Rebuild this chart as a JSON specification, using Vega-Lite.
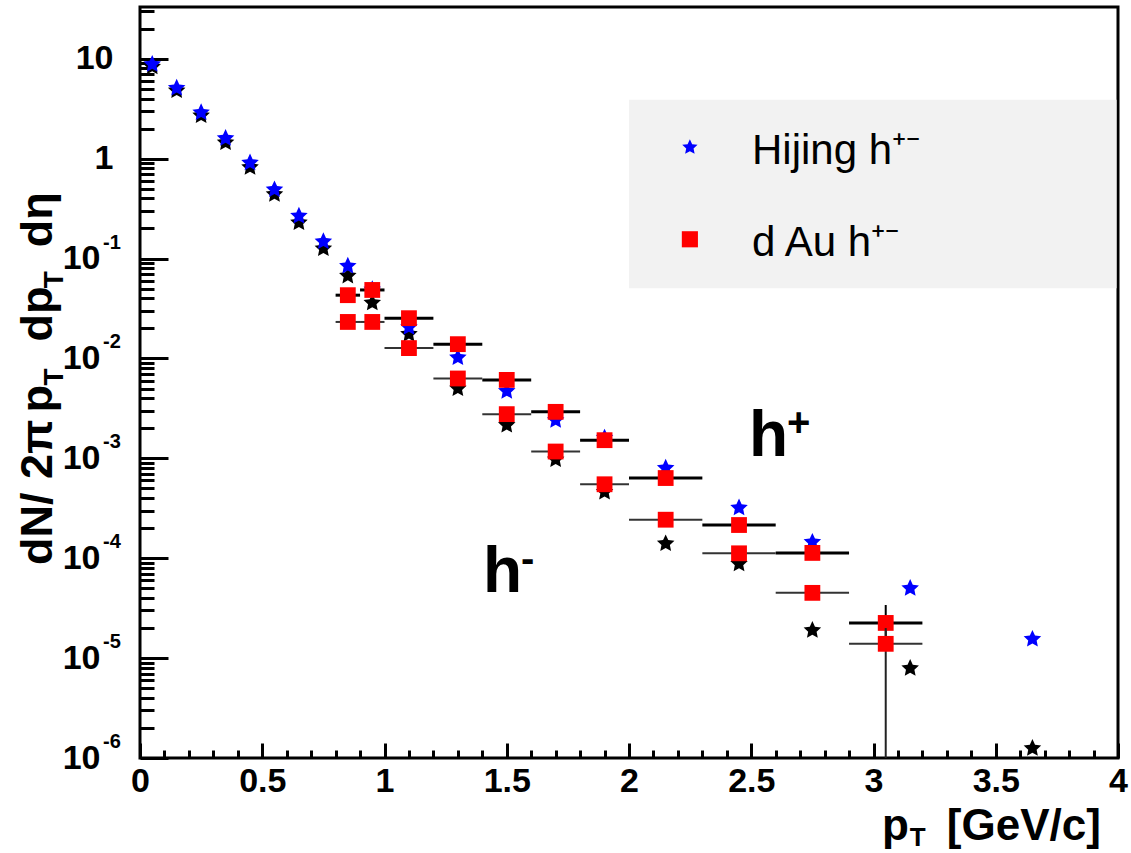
{
  "$schema": "https://vega.github.io/schema/vega-lite/v6.json",
  "width": 978,
  "height": 751,
  "autosize": "none",
  "padding": {"left": 140, "top": 7, "right": 13, "bottom": 95},
  "background": "white",
  "config": {
    "font": "Liberation Sans",
    "view": {"stroke": "black", "strokeWidth": 3},
    "axis": {
      "domain": false,
      "grid": false,
      "tickColor": "black",
      "tickWidth": 3,
      "labelColor": "black",
      "labelFont": "Liberation Sans",
      "labelFontWeight": "bold",
      "labelFontSize": 34,
      "labelFlush": false,
      "labelOverlap": false,
      "labelBound": false
    }
  },
  "datasets": {
    "hijing": [
      {"pt": 0.05, "charge": "h-", "dndpt": 8.3},
      {"pt": 0.15, "charge": "h-", "dndpt": 4.8},
      {"pt": 0.25, "charge": "h-", "dndpt": 2.7},
      {"pt": 0.35, "charge": "h-", "dndpt": 1.45},
      {"pt": 0.45, "charge": "h-", "dndpt": 0.82},
      {"pt": 0.55, "charge": "h-", "dndpt": 0.44},
      {"pt": 0.65, "charge": "h-", "dndpt": 0.229},
      {"pt": 0.75, "charge": "h-", "dndpt": 0.126},
      {"pt": 0.85, "charge": "h-", "dndpt": 0.067},
      {"pt": 0.95, "charge": "h-", "dndpt": 0.036},
      {"pt": 1.1, "charge": "h-", "dndpt": 0.0175},
      {"pt": 1.3, "charge": "h-", "dndpt": 0.005},
      {"pt": 1.5, "charge": "h-", "dndpt": 0.00215},
      {"pt": 1.7, "charge": "h-", "dndpt": 0.00097},
      {"pt": 1.9, "charge": "h-", "dndpt": 0.00046},
      {"pt": 2.15, "charge": "h-", "dndpt": 0.00014},
      {"pt": 2.45, "charge": "h-", "dndpt": 0.000088},
      {"pt": 2.75, "charge": "h-", "dndpt": 0.000019},
      {"pt": 3.15, "charge": "h-", "dndpt": 0.0000079},
      {"pt": 3.65, "charge": "h-", "dndpt": 0.00000125},
      {"pt": 0.05, "charge": "h+", "dndpt": 8.8},
      {"pt": 0.15, "charge": "h+", "dndpt": 5.1},
      {"pt": 0.25, "charge": "h+", "dndpt": 2.9},
      {"pt": 0.35, "charge": "h+", "dndpt": 1.6},
      {"pt": 0.45, "charge": "h+", "dndpt": 0.91},
      {"pt": 0.55, "charge": "h+", "dndpt": 0.49},
      {"pt": 0.65, "charge": "h+", "dndpt": 0.267},
      {"pt": 0.75, "charge": "h+", "dndpt": 0.148},
      {"pt": 0.85, "charge": "h+", "dndpt": 0.0843},
      {"pt": 0.95, "charge": "h+", "dndpt": 0.049},
      {"pt": 1.1, "charge": "h+", "dndpt": 0.0205},
      {"pt": 1.3, "charge": "h+", "dndpt": 0.0102},
      {"pt": 1.5, "charge": "h+", "dndpt": 0.0047},
      {"pt": 1.7, "charge": "h+", "dndpt": 0.0024},
      {"pt": 1.9, "charge": "h+", "dndpt": 0.0016},
      {"pt": 2.15, "charge": "h+", "dndpt": 0.0008},
      {"pt": 2.45, "charge": "h+", "dndpt": 0.00032},
      {"pt": 2.75, "charge": "h+", "dndpt": 0.000145},
      {"pt": 3.15, "charge": "h+", "dndpt": 0.00005},
      {"pt": 3.65, "charge": "h+", "dndpt": 0.0000155}
    ],
    "dau": [
      {"pt": 0.85, "lo": 0.8, "hi": 0.9, "charge": "h+", "val": 0.043},
      {"pt": 0.95, "lo": 0.9, "hi": 1.0, "charge": "h+", "val": 0.0485},
      {"pt": 1.1, "lo": 1.0, "hi": 1.2, "charge": "h+", "val": 0.0253},
      {"pt": 1.3, "lo": 1.2, "hi": 1.4, "charge": "h+", "val": 0.0139},
      {"pt": 1.5, "lo": 1.4, "hi": 1.6, "charge": "h+", "val": 0.0061},
      {"pt": 1.7, "lo": 1.6, "hi": 1.8, "charge": "h+", "val": 0.00292},
      {"pt": 1.9, "lo": 1.8, "hi": 2.0, "charge": "h+", "val": 0.00152},
      {"pt": 2.15, "lo": 2.0, "hi": 2.3, "charge": "h+", "val": 0.000635},
      {"pt": 2.45, "lo": 2.3, "hi": 2.6, "charge": "h+", "val": 0.000215},
      {"pt": 2.75, "lo": 2.6, "hi": 2.9, "charge": "h+", "val": 0.000113},
      {"pt": 3.05, "lo": 2.9, "hi": 3.2, "charge": "h+", "val": 0.0000225, "elo": 0.0000155, "ehi": 0.000034},
      {"pt": 0.85, "lo": 0.8, "hi": 0.9, "charge": "h-", "val": 0.0232},
      {"pt": 0.95, "lo": 0.9, "hi": 1.0, "charge": "h-", "val": 0.0232},
      {"pt": 1.1, "lo": 1.0, "hi": 1.2, "charge": "h-", "val": 0.0127},
      {"pt": 1.3, "lo": 1.2, "hi": 1.4, "charge": "h-", "val": 0.0063},
      {"pt": 1.5, "lo": 1.4, "hi": 1.6, "charge": "h-", "val": 0.00277},
      {"pt": 1.7, "lo": 1.6, "hi": 1.8, "charge": "h-", "val": 0.00117},
      {"pt": 1.9, "lo": 1.8, "hi": 2.0, "charge": "h-", "val": 0.00055},
      {"pt": 2.15, "lo": 2.0, "hi": 2.3, "charge": "h-", "val": 0.000243},
      {"pt": 2.45, "lo": 2.3, "hi": 2.6, "charge": "h-", "val": 0.000112},
      {"pt": 2.75, "lo": 2.6, "hi": 2.9, "charge": "h-", "val": 0.000045},
      {"pt": 3.05, "lo": 2.9, "hi": 3.2, "charge": "h-", "val": 0.0000139, "elo": 0.0000001, "ehi": 0.00002}
    ],
    "decades": [
      {"v": 0.1, "e": "-1"},
      {"v": 0.01, "e": "-2"},
      {"v": 0.001, "e": "-3"},
      {"v": 0.0001, "e": "-4"},
      {"v": 0.00001, "e": "-5"},
      {"v": 0.000001, "e": "-6"}
    ],
    "legendbox": [{"x1": 2.0, "x2": 3.994, "y1": 3.9, "y2": 0.0505}],
    "legend": [
      {"series": "Hijing", "label": "Hijing h⁺⁻", "lx": 2.249, "tx": 2.503, "ly": 1.3},
      {"series": "dAu", "label": "d Au h⁺⁻", "lx": 2.249, "tx": 2.503, "ly": 0.156}
    ],
    "notes": [
      {"x": 2.491, "y": 0.00105, "base": "h", "sup": "+"},
      {"x": 1.403, "y": 0.000046, "base": "h", "sup": "-"}
    ],
    "ytitle": [
      {"at": 0.0000857, "text": "dN/", "sub": false},
      {"at": 0.000621, "text": "2π", "sub": false},
      {"at": 0.00288, "text": "p", "sub": false},
      {"at": 0.00537, "text": "T", "sub": true},
      {"at": 0.0148, "text": "dp", "sub": false},
      {"at": 0.0505, "text": "T", "sub": true},
      {"at": 0.13, "text": "dη", "sub": false}
    ],
    "xtitle": [
      {"at": 3.035, "text": "p", "sub": false},
      {"at": 3.148, "text": "T", "sub": true},
      {"at": 3.3, "text": "[GeV/c]", "sub": false}
    ]
  },
  "resolve": {"axis": {"x": "independent", "y": "independent"}},
  "layer": [
    {
      "data": {"name": "legendbox"},
      "mark": {"type": "rect", "fill": "#f2f2f2", "strokeWidth": 0},
      "encoding": {
        "x": {"field": "x1", "type": "quantitative", "scale": {"domain": [0, 4], "nice": false, "zero": false}, "axis": null},
        "x2": {"field": "x2"},
        "y": {"field": "y1", "type": "quantitative", "scale": {"type": "log", "domain": [0.000001, 33], "nice": false}, "axis": null},
        "y2": {"field": "y2"}
      }
    },
    {
      "data": {"name": "hijing"},
      "transform": [{"filter": "datum.charge === 'h-'"}],
      "mark": {
        "type": "point",
        "shape": "M0,-1L0.282,-0.388L0.951,-0.309L0.456,0.148L0.588,0.809L0,0.48L-0.588,0.809L-0.456,0.148L-0.951,-0.309L-0.282,-0.388Z",
        "filled": true,
        "size": 340,
        "color": "black",
        "opacity": 1
      },
      "encoding": {
        "x": {
          "field": "pt", "type": "quantitative",
          "scale": {"domain": [0, 4], "nice": false, "zero": false},
          "axis": {
            "orient": "bottom",
            "values": [0.1, 0.2, 0.3, 0.4, 0.6, 0.7, 0.8, 0.9, 1.1, 1.2, 1.3, 1.4, 1.6, 1.7, 1.8, 1.9, 2.1, 2.2, 2.3, 2.4, 2.6, 2.7, 2.8, 2.9, 3.1, 3.2, 3.3, 3.4, 3.6, 3.7, 3.8, 3.9],
            "tickSize": -8,
            "labels": false,
            "title": null
          }
        },
        "y": {
          "field": "dndpt", "type": "quantitative",
          "scale": {"type": "log", "domain": [0.000001, 33], "nice": false},
          "axis": {
            "orient": "left",
            "values": [0.000002, 0.000003, 0.000004, 0.000005, 0.000006, 0.000007, 0.000008, 0.000009,
                       0.00002, 0.00003, 0.00004, 0.00005, 0.00006, 0.00007, 0.00008, 0.00009,
                       0.0002, 0.0003, 0.0004, 0.0005, 0.0006, 0.0007, 0.0008, 0.0009,
                       0.002, 0.003, 0.004, 0.005, 0.006, 0.007, 0.008, 0.009,
                       0.02, 0.03, 0.04, 0.05, 0.06, 0.07, 0.08, 0.09,
                       0.2, 0.3, 0.4, 0.5, 0.6, 0.7, 0.8, 0.9,
                       2, 3, 4, 5, 6, 7, 8, 9, 20, 30],
            "tickSize": -14,
            "labels": false,
            "title": null
          }
        }
      }
    },
    {
      "data": {"name": "hijing"},
      "transform": [{"filter": "datum.charge === 'h+'"}],
      "mark": {
        "type": "point",
        "shape": "M0,-1L0.282,-0.388L0.951,-0.309L0.456,0.148L0.588,0.809L0,0.48L-0.588,0.809L-0.456,0.148L-0.951,-0.309L-0.282,-0.388Z",
        "filled": true,
        "size": 340,
        "color": "#0000ff",
        "opacity": 1
      },
      "encoding": {
        "x": {
          "field": "pt", "type": "quantitative",
          "scale": {"domain": [0, 4], "nice": false, "zero": false},
          "axis": {
            "orient": "bottom",
            "values": [0, 0.5, 1, 1.5, 2, 2.5, 3, 3.5, 4],
            "labelExpr": "'' + datum.value",
            "tickSize": -15,
            "labelPadding": 21,
            "labelBaseline": "top",
            "title": null
          }
        },
        "y": {
          "field": "dndpt", "type": "quantitative",
          "scale": {"type": "log", "domain": [0.000001, 33], "nice": false},
          "axis": {
            "orient": "left",
            "values": [0.000001, 0.00001, 0.0001, 0.001, 0.01, 0.1, 1, 10],
            "labelExpr": "datum.value >= 5 ? '10' : (datum.value >= 0.5 ? '1' : '10')",
            "tickSize": -28,
            "labelBaseline": "middle",
            "labelPadding": {"condition": {"test": "datum.value < 0.5", "value": 68}, "value": 55},
            "title": null
          }
        }
      }
    },
    {
      "data": {"name": "dau"},
      "transform": [{"filter": "datum.charge === 'h+'"}],
      "layer": [
        {
          "mark": {"type": "rule", "color": "black", "strokeWidth": 3},
          "encoding": {
            "x": {"field": "lo", "type": "quantitative", "scale": {"domain": [0, 4], "nice": false, "zero": false}, "axis": null},
            "x2": {"field": "hi"},
            "y": {"field": "val", "type": "quantitative", "scale": {"type": "log", "domain": [0.000001, 33], "nice": false}, "axis": null}
          }
        },
        {
          "transform": [{"filter": "isValid(datum.elo)"}],
          "mark": {"type": "rule", "color": "black", "strokeWidth": 2, "clip": true},
          "encoding": {
            "x": {"field": "pt", "type": "quantitative", "scale": {"domain": [0, 4], "nice": false, "zero": false}, "axis": null},
            "y": {"field": "elo", "type": "quantitative", "scale": {"type": "log", "domain": [0.000001, 33], "nice": false}, "axis": null},
            "y2": {"field": "ehi"}
          }
        },
        {
          "mark": {"type": "point", "shape": "square", "filled": true, "size": 250, "color": "#ff0000", "opacity": 1},
          "encoding": {
            "x": {"field": "pt", "type": "quantitative", "scale": {"domain": [0, 4], "nice": false, "zero": false}, "axis": null},
            "y": {"field": "val", "type": "quantitative", "scale": {"type": "log", "domain": [0.000001, 33], "nice": false}, "axis": null}
          }
        }
      ]
    },
    {
      "data": {"name": "dau"},
      "transform": [{"filter": "datum.charge === 'h-'"}],
      "layer": [
        {
          "mark": {"type": "rule", "color": "#333333", "strokeWidth": 2},
          "encoding": {
            "x": {"field": "lo", "type": "quantitative", "scale": {"domain": [0, 4], "nice": false, "zero": false}, "axis": null},
            "x2": {"field": "hi"},
            "y": {"field": "val", "type": "quantitative", "scale": {"type": "log", "domain": [0.000001, 33], "nice": false}, "axis": null}
          }
        },
        {
          "transform": [{"filter": "isValid(datum.elo)"}],
          "mark": {"type": "rule", "color": "#222222", "strokeWidth": 2, "clip": true},
          "encoding": {
            "x": {"field": "pt", "type": "quantitative", "scale": {"domain": [0, 4], "nice": false, "zero": false}, "axis": null},
            "y": {"field": "elo", "type": "quantitative", "scale": {"type": "log", "domain": [0.000001, 33], "nice": false}, "axis": null},
            "y2": {"field": "ehi"}
          }
        },
        {
          "mark": {"type": "point", "shape": "square", "filled": true, "size": 250, "color": "#ff0000", "opacity": 1},
          "encoding": {
            "x": {"field": "pt", "type": "quantitative", "scale": {"domain": [0, 4], "nice": false, "zero": false}, "axis": null},
            "y": {"field": "val", "type": "quantitative", "scale": {"type": "log", "domain": [0.000001, 33], "nice": false}, "axis": null}
          }
        }
      ]
    },
    {
      "data": {"name": "legend"},
      "mark": {"type": "point", "filled": true, "size": 260, "opacity": 1},
      "encoding": {
        "x": {"field": "lx", "type": "quantitative", "scale": {"domain": [0, 4], "nice": false, "zero": false}, "axis": null},
        "y": {"field": "ly", "type": "quantitative", "scale": {"type": "log", "domain": [0.000001, 33], "nice": false}, "axis": null},
        "shape": {
          "field": "series", "type": "nominal", "legend": null,
          "scale": {"domain": ["Hijing", "dAu"], "range": ["M0,-1L0.282,-0.388L0.951,-0.309L0.456,0.148L0.588,0.809L0,0.48L-0.588,0.809L-0.456,0.148L-0.951,-0.309L-0.282,-0.388Z", "square"]}
        },
        "color": {
          "field": "series", "type": "nominal", "legend": null,
          "scale": {"domain": ["Hijing", "dAu"], "range": ["#0000ff", "#ff0000"]}
        }
      }
    },
    {
      "data": {"name": "legend"},
      "mark": {"type": "text", "align": "left", "baseline": "middle", "dy": 4, "fontSize": 42, "font": "Liberation Sans", "color": "black"},
      "encoding": {
        "x": {"field": "tx", "type": "quantitative", "scale": {"domain": [0, 4], "nice": false, "zero": false}, "axis": null},
        "y": {"field": "ly", "type": "quantitative", "scale": {"type": "log", "domain": [0.000001, 33], "nice": false}, "axis": null},
        "text": {"field": "label"}
      }
    },
    {
      "data": {"name": "notes"},
      "mark": {"type": "text", "align": "left", "baseline": "alphabetic", "fontSize": 64, "fontWeight": "bold", "color": "black"},
      "encoding": {
        "x": {"field": "x", "type": "quantitative", "scale": {"domain": [0, 4], "nice": false, "zero": false}, "axis": null},
        "y": {"field": "y", "type": "quantitative", "scale": {"type": "log", "domain": [0.000001, 33], "nice": false}, "axis": null},
        "text": {"field": "base"}
      }
    },
    {
      "data": {"name": "notes"},
      "mark": {"type": "text", "align": "left", "baseline": "alphabetic", "dx": 38, "dy": -20, "fontSize": 40, "fontWeight": "bold", "color": "black"},
      "encoding": {
        "x": {"field": "x", "type": "quantitative", "scale": {"domain": [0, 4], "nice": false, "zero": false}, "axis": null},
        "y": {"field": "y", "type": "quantitative", "scale": {"type": "log", "domain": [0.000001, 33], "nice": false}, "axis": null},
        "text": {"field": "sup"}
      }
    },
    {
      "data": {"name": "decades"},
      "mark": {"type": "text", "align": "left", "baseline": "alphabetic", "dx": -37, "dy": -10, "fontSize": 20, "fontWeight": "bold", "color": "black"},
      "encoding": {
        "x": {"datum": 0, "type": "quantitative", "scale": {"domain": [0, 4], "nice": false, "zero": false}, "axis": null},
        "y": {"field": "v", "type": "quantitative", "scale": {"type": "log", "domain": [0.000001, 33], "nice": false}, "axis": null},
        "text": {"field": "e"}
      }
    },
    {
      "data": {"name": "ytitle"},
      "transform": [{"filter": "!datum.sub"}],
      "mark": {"type": "text", "angle": 270, "align": "left", "baseline": "alphabetic", "dy": -88, "fontSize": 45, "fontWeight": "bold", "color": "black"},
      "encoding": {
        "x": {"datum": 0, "type": "quantitative", "scale": {"domain": [0, 4], "nice": false, "zero": false}, "axis": null},
        "y": {"field": "at", "type": "quantitative", "scale": {"type": "log", "domain": [0.000001, 33], "nice": false}, "axis": null},
        "text": {"field": "text"}
      }
    },
    {
      "data": {"name": "ytitle"},
      "transform": [{"filter": "datum.sub"}],
      "mark": {"type": "text", "angle": 270, "align": "left", "baseline": "alphabetic", "dy": -77, "fontSize": 28, "fontWeight": "bold", "color": "black"},
      "encoding": {
        "x": {"datum": 0, "type": "quantitative", "scale": {"domain": [0, 4], "nice": false, "zero": false}, "axis": null},
        "y": {"field": "at", "type": "quantitative", "scale": {"type": "log", "domain": [0.000001, 33], "nice": false}, "axis": null},
        "text": {"field": "text"}
      }
    },
    {
      "data": {"name": "xtitle"},
      "transform": [{"filter": "!datum.sub"}],
      "mark": {"type": "text", "align": "left", "baseline": "alphabetic", "dy": 82, "fontSize": 44, "fontWeight": "bold", "color": "black"},
      "encoding": {
        "x": {"field": "at", "type": "quantitative", "scale": {"domain": [0, 4], "nice": false, "zero": false}, "axis": null},
        "y": {"datum": 0.000001, "type": "quantitative", "scale": {"type": "log", "domain": [0.000001, 33], "nice": false}, "axis": null},
        "text": {"field": "text"}
      }
    },
    {
      "data": {"name": "xtitle"},
      "transform": [{"filter": "datum.sub"}],
      "mark": {"type": "text", "align": "left", "baseline": "alphabetic", "dy": 88, "fontSize": 26, "fontWeight": "bold", "color": "black"},
      "encoding": {
        "x": {"field": "at", "type": "quantitative", "scale": {"domain": [0, 4], "nice": false, "zero": false}, "axis": null},
        "y": {"datum": 0.000001, "type": "quantitative", "scale": {"type": "log", "domain": [0.000001, 33], "nice": false}, "axis": null},
        "text": {"field": "text"}
      }
    }
  ]
}
